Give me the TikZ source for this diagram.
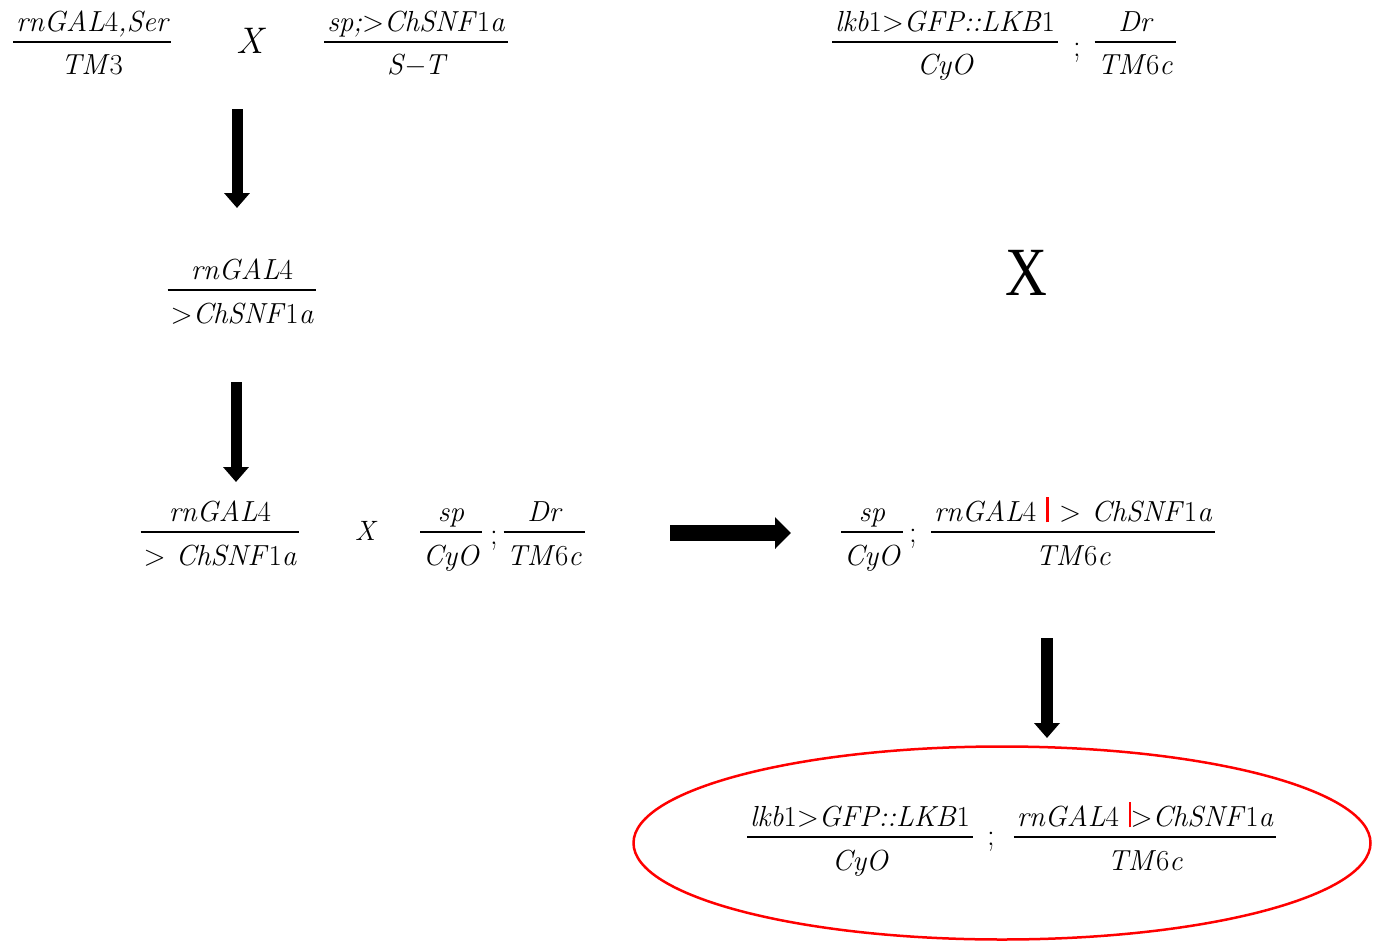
\documentclass[tikz,border=0pt]{standalone}
\usepackage{fontspec}
\newfontfamily\timesfont{Liberation Serif}
\usetikzlibrary{arrows.meta,shapes.geometric}
\newcommand\GT{\textup{>}}
\newcommand\U[1]{\textup{#1}}
\newcommand\redbar[2]{\textcolor{red}{\rule[-1pt]{#1}{#2}}}
\newcommand\fr[2]{\begin{tabular}{@{\hspace{3pt}}c@{\hspace{3pt}}}\rule{0pt}{26pt}#1\rule[-10pt]{0pt}{0pt}\\\hline\rule{0pt}{32pt}#2\end{tabular}}
\setlength\arrayrulewidth{1.6pt}
\begin{document}
\begin{tikzpicture}[x=1pt,y=-1pt,
  frac/.style={inner sep=0pt, anchor=north, font=\fontsize{29}{29}\selectfont\itshape},
  semi/.style={inner sep=0pt, anchor=base, font=\fontsize{31}{31}\selectfont},
  blk/.style={draw=black, -{Triangle[width=#1]}},
]
\useasboundingbox (0,0) rectangle (1379,942);
% top row
\node[frac] (A) at (92,{42-36.8}) {\fr{rnGAL\U{4},Ser}{TM\U{3}}};
\node[inner sep=0pt, font=\fontsize{37}{37}\selectfont\itshape] (x1) at (250,41) {X};
\node[frac] (B) at (416,{42-36.8}) {\fr{sp;\GT ChSNF\U{1}a}{S−T}};
\node[frac] (C) at (945,{42-36.8}) {\fr{lkb\U{1}\GT GFP::LKB\U{1}}{CyO}};
\node[semi] (s1) at (1077,57) {;};
\node[frac] (D) at (1135,{42-36.8}) {\fr{Dr}{TM\U{6}c}};
% second
\node[frac] (E) at (242,{290-36.8}) {\fr{rnGAL\U{4}}{\GT ChSNF\U{1}a}};
\node[inner sep=0pt, font=\fontsize{69}{69}\selectfont\timesfont] (bigX) at (1026,273) {\scalebox{0.84}[1]{X}};
% third row
\node[frac] (F) at (220,{532-36.8}) {\fr{rnGAL\U{4}}{\GT{} ChSNF\U{1}a}};
\node[inner sep=0pt, font=\fontsize{28}{28}\selectfont\itshape] (x2) at (365,531) {X};
\node[frac] (G) at (451,{532-36.8}) {\fr{sp}{CyO}};
\node[semi] (s2) at (494,544) {;};
\node[frac] (H) at (544,{532-36.8}) {\fr{Dr}{TM\U{6}c}};
\node[frac] (I) at (872,{532-36.8}) {\fr{sp}{CyO}};
\node[semi] (s3) at (913,542) {;};
\node[frac] (J) at (1073,{532-36.8}) {\fr{rnGAL\U{4} \redbar{2.5pt}{25pt} \GT{} ChSNF\U{1}a}{TM\U{6}c}};
% bottom
\node[draw=red, line width=2.5pt, ellipse, minimum width=737pt, minimum height=193pt, inner sep=0pt] (goal) at (1002,843) {};
\node[frac] (K) at (860,{837-36.8}) {\fr{lkb\U{1}\GT GFP::LKB\U{1}}{CyO}};
\node[semi] (s4) at (991,845) {;};
\node[frac] (L) at (1145,{837-36.8}) {\fr{rnGAL\U{4} \redbar{1.5pt}{25pt}\GT ChSNF\U{1}a}{TM\U{6}c}};
% arrows
\coordinate (a1s) at (237,109); \coordinate (a1e) at (237,208);
\coordinate (a2s) at (236,382); \coordinate (a2e) at (236,482);
\coordinate (a3s) at (670,533); \coordinate (a3e) at (791,533);
\coordinate (a4s) at (1047,638); \coordinate (a4e) at (1047,738);
\draw[blk={25pt,length=15pt}, line width=11pt] (a1s) -- (a1e);
\draw[blk={25pt,length=15pt}, line width=11pt] (a2s) -- (a2e);
\draw[blk={31pt,length=16pt}, line width=16pt] (a3s) -- (a3e);
\draw[blk={25pt,length=15pt}, line width=12pt] (a4s) -- (a4e);
\end{tikzpicture}
\end{document}
